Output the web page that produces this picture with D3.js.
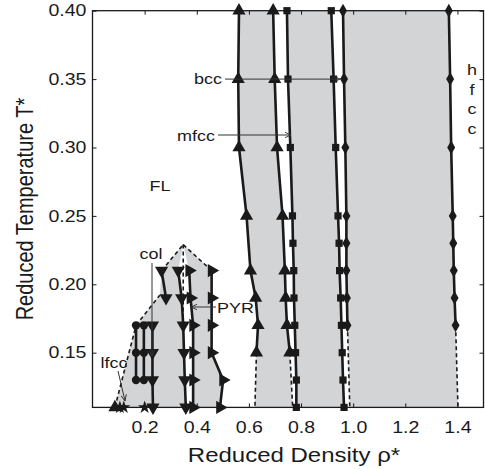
<!DOCTYPE html>
<html><head><meta charset="utf-8">
<script src="https://cdn.jsdelivr.net/npm/d3@7"></script>
<style>
body{margin:0;background:#fff}
svg{display:block}
text{font-family:"Liberation Sans",Arial,Helvetica,sans-serif;fill:#1a1a1a}
</style>
</head><body>
<svg id="chart" width="485" height="470"></svg>
<script>
// ---------- data ----------
const xTicks = [0.2, 0.4, 0.6, 0.8, 1.0, 1.2, 1.4];
const yTicks = [0.15, 0.20, 0.25, 0.30, 0.35, 0.40];

// upper solid-phase boundaries (T levels and densities)
const tAB  = [0.40, 0.35, 0.30, 0.25, 0.21, 0.19, 0.17, 0.15];
const rhoA = [0.562, 0.559, 0.562, 0.591, 0.606, 0.626, 0.635, 0.629];
const rhoB = [0.693, 0.699, 0.708, 0.729, 0.738, 0.741, 0.746, 0.757];
const tCD  = [0.40, 0.35, 0.30, 0.25, 0.23, 0.21, 0.19, 0.17, 0.15, 0.13, 0.11];
const rhoC = [0.746, 0.750, 0.759, 0.767, 0.769, 0.772, 0.773, 0.776, 0.779, 0.782, 0.782];
const rhoD = [0.916, 0.925, 0.933, 0.942, 0.946, 0.948, 0.952, 0.955, 0.958, 0.961, 0.965];
const tEF  = [0.40, 0.35, 0.30, 0.25, 0.23, 0.21, 0.19, 0.17];
const rhoE = [0.961, 0.965, 0.970, 0.974, 0.974, 0.974, 0.976, 0.978];
const rhoF = [1.367, 1.372, 1.376, 1.382, 1.384, 1.386, 1.389, 1.393];
// dashed extrapolations to the bottom (T = 0.11)
const extA = [[0.629, 0.15], [0.623, 0.11]];
const extB = [[0.757, 0.15], [0.768, 0.11]];
const extE = [[0.978, 0.17], [0.987, 0.11]];
const extF = [[1.393, 0.17], [1.402, 0.11]];

// low-density region
const tCircle  = [0.17, 0.15, 0.13];
const rhoCirc1 = [0.167, 0.167, 0.167];
const rhoCirc2 = [0.197, 0.197, 0.197];
const tCol     = [0.17, 0.15, 0.13, 0.11];
const rhoCol   = [0.230, 0.230, 0.230, 0.232];
const tL2 = [0.21, 0.19];
const rhoL2 = [0.265, 0.282];
const tL  = [0.21, 0.19, 0.17, 0.15, 0.13, 0.11];
const rhoL3 = [0.329, 0.342, 0.348, 0.351, 0.354, 0.358];
const rhoL4 = [0.371, 0.376, 0.386, 0.386, 0.386, 0.386];
const rhoL5 = [0.457, 0.457, 0.457, 0.457, 0.501, 0.489];
const rhoStars = [0.105, 0.120, 0.200];
const tStars = [0.11, 0.11, 0.11];
const rhoLfccTri = [0.086];
const tLfccTri = [0.11];
const peak = [0.348, 0.229];
const lowBoundary = [[0.086, 0.11], [0.167, 0.17], [0.258, 0.192], [0.265, 0.21], [0.348, 0.229], [0.457, 0.21]];

// ---------- setup ----------
const svg = d3.select("#chart");
const x = d3.scaleLinear().domain([0, 1.5]).range([92.5, 483.5]);
const y = d3.scaleLinear().domain([0.11, 0.40]).range([407.4, 10.7]);
const GRAY = "#d3d4d6", INK = "#1a1a1a";
const zip = (r, t) => r.map((v, i) => [v, t[i]]);
const line = d3.line().x(d => x(d[0])).y(d => y(d[1]));
const area = pts => line(pts) + "Z";

// ---------- shaded regions ----------
const g = svg.append("g");
const regAB = zip(rhoA, tAB).concat([extA[1]], [extB[1]], zip(rhoB, tAB).reverse());
const regCD = zip(rhoC, tCD).concat(zip(rhoD, tCD).reverse());
const regEF = zip(rhoE, tEF).concat([extE[1]], [extF[1]], zip(rhoF, tEF).reverse());
const regLow = lowBoundary.concat(zip(rhoL5, tL));
[regAB, regCD, regEF, regLow].forEach(p => g.append("path").attr("d", area(p)).attr("fill", GRAY));
// white gap between L3 and L4
const gap = [peak].concat(zip(rhoL3, tL), zip(rhoL4, tL).reverse());
g.append("path").attr("d", area(gap)).attr("fill", "#fff");

// ---------- dashed lines ----------
const dashed = [extA, extB, extE, extF,
  [lowBoundary[0], lowBoundary[1]], [lowBoundary[1], lowBoundary[2]],
  [lowBoundary[3], lowBoundary[4]], [lowBoundary[4], lowBoundary[5]],
  [peak, [rhoL3[2], tL[2]]]];
dashed.forEach(p => g.append("path").attr("d", line(p)).attr("fill", "none")
  .attr("stroke", INK).attr("stroke-width", 1.6).attr("stroke-dasharray", "4,3"));

// ---------- solid lines with markers ----------
const series = [
  {pts: zip(rhoA, tAB), sym: "tri", rot: 0},
  {pts: zip(rhoB, tAB), sym: "tri", rot: 0},
  {pts: zip(rhoC, tCD), sym: "sq", rot: 0},
  {pts: zip(rhoD, tCD), sym: "sq", rot: 0},
  {pts: zip(rhoE, tEF), sym: "dia", rot: 0},
  {pts: zip(rhoF, tEF), sym: "dia", rot: 0},
  {pts: zip(rhoCirc1, tCircle), sym: "circ", rot: 0},
  {pts: zip(rhoCirc2, tCircle), sym: "circ", rot: 0},
  {pts: zip(rhoCol, tCol), sym: "tri", rot: 180},
  {pts: zip(rhoL2, tL2), sym: "tri", rot: 180},
  {pts: zip(rhoL3, tL), sym: "tri", rot: 180},
  {pts: zip(rhoL4, tL), sym: "tri", rot: 90},
  {pts: zip(rhoL5, tL), sym: "tri", rot: 90},
  {pts: zip(rhoStars, tStars), sym: "star", rot: 0, noLine: true},
  {pts: zip(rhoLfccTri, tLfccTri), sym: "tri", rot: 0, noLine: true}
];
const symType = {tri: d3.symbolTriangle, sq: d3.symbolSquare, dia: d3.symbolDiamond, circ: d3.symbolCircle, star: d3.symbolStar};
const symSize = {tri: 75, sq: 52, dia: 55, circ: 55, star: 55};
series.forEach(s => {
  if (!s.noLine) g.append("path").attr("d", line(s.pts)).attr("fill", "none")
      .attr("stroke", INK).attr("stroke-width", 2.6).attr("stroke-linejoin", "round");
  g.selectAll(null).data(s.pts).enter().append("path")
    .attr("d", d3.symbol().type(symType[s.sym]).size(symSize[s.sym]))
    .attr("transform", d => `translate(${x(d[0])},${y(d[1])}) rotate(${s.rot})`)
    .attr("fill", INK);
});

// ---------- annotations ----------
svg.append("defs").append("marker").attr("id", "ah").attr("viewBox", "0 0 10 10")
  .attr("refX", 9).attr("refY", 5).attr("markerWidth", 7).attr("markerHeight", 7)
  .attr("orient", "auto").append("path").attr("d", "M0,1 L9,5 L0,9").attr("fill", "none")
  .attr("stroke", "#333").attr("stroke-width", 1.3);
const ann = svg.append("g");
const arrow = (x1, y1, x2, y2, head) => ann.append("line").attr("x1", x1).attr("y1", y1)
  .attr("x2", x2).attr("y2", y2).attr("stroke", "#333").attr("stroke-width", 1)
  .attr("marker-end", head ? "url(#ah)" : null);
const label = (t, px, py, anchor, fs) => ann.append("text").text(t)
  .attr("transform", `translate(${px},${py}) scale(1.2,1)`)
  .attr("text-anchor", anchor).attr("font-size", fs || 15);

label("bcc", 222, 84, "end");
arrow(225, y(0.35), x(rhoE[1]) - 4, y(0.35), true);
label("mfcc", 215, 141, "end");
arrow(218, 135, 291, 135, true);
label("FL", 160, 191, "middle");
label("col", 151, 259, "middle");
arrow(152, 263, 152, 356, true);
label("PYR", 217, 313, "start");
arrow(216, 307, 191, 307, true);
label("lfcc", 114, 368, "middle");
arrow(118, 371, 125, 401, true);
["h", "f", "c", "c"].forEach((c, i) => label(c, 472, 75 + i * 19.5, "middle"));

// ---------- axes ----------
const axG = svg.append("g");
const styleAxis = sel => {
  sel.select(".domain").remove();
  sel.selectAll(".tick line").attr("stroke", INK).attr("stroke-width", 1);
};
const axBottom = axG.append("g").attr("transform", `translate(0,${y(0.11)})`)
  .call(d3.axisBottom(x).tickValues(xTicks).tickFormat(d3.format(".1f")).tickSize(-4).tickPadding(14));
const axLeft = axG.append("g").attr("transform", `translate(${x(0)},0)`)
  .call(d3.axisLeft(y).tickValues(yTicks).tickFormat(d3.format(".2f")).tickSize(-4).tickPadding(5));
const axTop = axG.append("g").attr("transform", `translate(0,${y(0.40)})`)
  .call(d3.axisTop(x).tickValues(xTicks).tickFormat("").tickSize(-4));
const axRight = axG.append("g").attr("transform", `translate(${x(1.5)},0)`)
  .call(d3.axisRight(y).tickValues(yTicks).tickFormat("").tickSize(-4));
[axBottom, axLeft, axTop, axRight].forEach(styleAxis);
[axBottom, axLeft].forEach(a => a.selectAll(".tick text").attr("font-size", 16.3)
  .attr("fill", INK).attr("font-family", '"Liberation Sans",Arial,sans-serif')
  .attr("transform", "scale(1.2,1)"));
axG.append("rect").attr("x", x(0)).attr("y", y(0.40)).attr("width", x(1.5) - x(0))
  .attr("height", y(0.11) - y(0.40)).attr("fill", "none").attr("stroke", INK).attr("stroke-width", 1.3);

// axis titles
svg.append("text").text("Reduced Density ρ*").attr("text-anchor", "middle")
  .attr("transform", `translate(294,462) scale(1.2,1)`).attr("font-size", 20);
svg.append("text").text("Reduced Temperature T*").attr("text-anchor", "middle")
  .attr("transform", `translate(33,${y(0.255)}) rotate(-90) scale(1,1.2)`).attr("font-size", 20);
</script>
</body></html>
